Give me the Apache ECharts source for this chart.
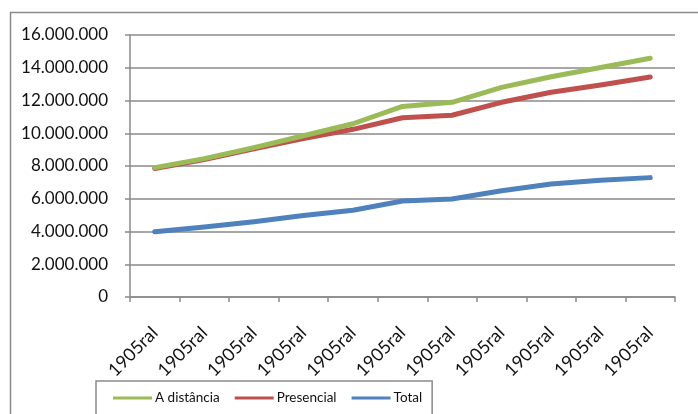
<!DOCTYPE html>
<html>
<head>
<meta charset="utf-8">
<script src="https://cdn.jsdelivr.net/npm/echarts@6/dist/echarts.min.js"></script>
<style>
html,body{margin:0;padding:0;background:#fff;}
#chart{width:698px;height:414px;}
</style>
</head>
<body>
<div id="chart"></div>
<script>
var categories = ['1905ral','1905ral','1905ral','1905ral','1905ral','1905ral','1905ral','1905ral','1905ral','1905ral','1905ral'];
var aDistancia = [7900000, 8450000, 9120000, 9850000, 10580000, 11640000, 11890000, 12800000, 13450000, 14020000, 14580000];
var presencial = [7850000, 8400000, 9050000, 9680000, 10240000, 10950000, 11100000, 11890000, 12500000, 12950000, 13440000];
var total = [3990000, 4270000, 4600000, 4980000, 5300000, 5860000, 5980000, 6490000, 6900000, 7130000, 7290000];
var seriesNames = ['A distância', 'Presencial', 'Total'];
var yMin = 0, yMax = 16000000, yStep = 2000000;

var FONT = 'Lato';
function fmt(v){
  return String(Math.round(v)).replace(/\B(?=(\d{3})+(?!\d))/g, '.');
}
var chart = echarts.init(document.getElementById('chart'), null, {renderer:'canvas'});
var lineStyleBase = {width: 5, cap: 'round', join: 'round'};
chart.setOption({
  animation: false,
  backgroundColor: '#fff',
  textStyle: {fontFamily: FONT},
  graphic: [{
    type: 'rect', left: 8, top: 10, z: -1, silent: true,
    shape: {x: 0, y: 0, width: 720, height: 430},
    style: {fill: 'none', stroke: '#8a8a8a', lineWidth: 1.5}
  }],
  grid: {left: 130, right: 23, top: 35, bottom: 117, containLabel: false},
  legend: {
    data: seriesNames,
    left: 96, top: 381,
    padding: [10, 10, 20, 17],
    borderColor: '#8a8a8a', borderWidth: 1.5,
    icon: 'rect', itemWidth: 39, itemHeight: 3, itemGap: 15,
    textStyle: {fontFamily: FONT, fontSize: 13.5, color: '#111', padding: [0,0,0,-2]}
  },
  xAxis: {
    type: 'category', data: categories, boundaryGap: true,
    axisLine: {show: true, lineStyle: {color: '#8a8a8a', width: 1.5}},
    axisTick: {show: true, length: 5, lineStyle: {color: '#8a8a8a', width: 1.5}},
    axisLabel: {interval: 0, rotate: 45, margin: 33, fontFamily: FONT, fontSize: 18, color: '#111'},
    splitLine: {show: false}
  },
  yAxis: {
    type: 'value', min: yMin, max: yMax, interval: yStep,
    axisLine: {show: true, lineStyle: {color: '#8a8a8a', width: 1.5}},
    axisTick: {show: true, length: 5, lineStyle: {color: '#8a8a8a', width: 1.5}},
    axisLabel: {margin: 22, fontFamily: FONT, fontSize: 17, color: '#111', formatter: fmt},
    splitLine: {show: true, lineStyle: {color: '#8a8a8a', width: 1.5}}
  },
  series: [
    {name: 'Total', type: 'line', data: total, showSymbol: false, symbol: 'none', color: '#4F81BD', lineStyle: Object.assign({color: '#4F81BD'}, lineStyleBase), z: 2},
    {name: 'Presencial', type: 'line', data: presencial, showSymbol: false, symbol: 'none', color: '#C0504D', lineStyle: Object.assign({color: '#C0504D'}, lineStyleBase), z: 3},
    {name: 'A distância', type: 'line', data: aDistancia, showSymbol: false, symbol: 'none', color: '#9BBB59', lineStyle: Object.assign({color: '#9BBB59'}, lineStyleBase), z: 4}
  ]
});
</script>
</body>
</html>
